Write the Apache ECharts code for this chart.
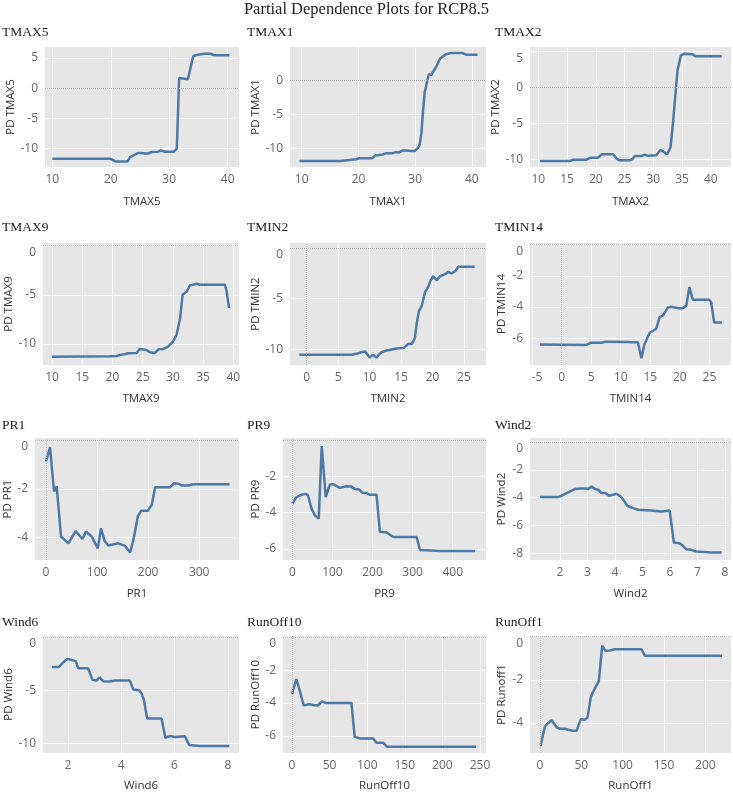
<!doctype html>
<html>
<head>
<meta charset="UTF-8">
<title>Partial Dependence Plots for RCP8.5</title>
<script src="https://cdn.jsdelivr.net/npm/echarts@6/dist/echarts.min.js"></script>
<style>
  html, body { margin: 0; padding: 0; background: #fff; }
  #main { width: 733px; height: 793px; }
</style>
</head>
<body>
<div id="main"></div>
<script>
// values, one x/y pair of arrays per panel
var tmax5X = [10, 19.9, 20.8, 22.9, 23.3, 24.1, 24.7, 25.2, 25.9, 26.4, 27.0, 28.1, 28.6, 28.9, 29.3, 30.8, 31.3, 31.7, 33.2, 33.5, 34.1, 34.9, 36.0, 37.1, 37.7, 40.3];
var tmax5Y = [-11.65, -11.65, -12.1, -12.1, -11.4, -11.0, -10.7, -10.7, -10.8, -10.8, -10.55, -10.5, -10.3, -10.2, -10.5, -10.5, -10.0, 1.7, 1.5, 1.7, 5.3, 5.55, 5.7, 5.7, 5.45, 5.45];

var tmax1X = [9.6, 16.8, 17.1, 19.6, 20.2, 22.4, 23.0, 23.3, 24.3, 24.9, 26.0, 26.6, 27.2, 27.8, 28.4, 29.3, 29.9, 30.5, 30.8, 31.1, 31.4, 31.7, 32.1, 32.4, 32.8, 33.1, 33.7, 34.4, 35.4, 36.3, 38.4, 39.0, 41.0];
var tmax1Y = [-11.8, -11.8, -11.6, -11.55, -11.4, -11.4, -11.0, -10.85, -10.85, -10.65, -10.65, -10.5, -10.55, -10.25, -10.25, -10.35, -10.35, -9.9, -9.4, -7.8, -4.4, -1.7, -0.25, 0.9, 0.75, 0.9, 1.95, 3.2, 3.8, 4.0, 4.0, 3.75, 3.75];

var tmax2X = [10.3, 15.5, 16.1, 18.4, 19.1, 20.4, 21.0, 23.0, 23.6, 24.1, 25.9, 26.4, 26.8, 27.9, 28.5, 29.0, 30.5, 31.2, 31.6, 32.4, 33.0, 33.4, 33.8, 34.2, 34.8, 35.4, 36.8, 37.4, 41.9];
var tmax2Y = [-10.19, -10.19, -10.0, -10.0, -9.72, -9.72, -9.26, -9.26, -9.86, -10.09, -10.09, -9.91, -9.49, -9.49, -9.31, -9.44, -9.4, -8.7, -8.8, -9.26, -8.24, -5.0, -1.3, 2.41, 4.49, 4.72, 4.63, 4.35, 4.35];

var tmax9X = [10, 19.6, 20.7, 21.2, 22.0, 22.6, 24.0, 24.5, 25.6, 26.2, 27.0, 27.6, 28.4, 29.2, 30.0, 30.6, 31.2, 31.6, 32.3, 32.8, 33.9, 34.5, 38.6, 38.9, 39.3];
var tmax9Y = [-11.29, -11.26, -11.22, -11.12, -11.05, -10.95, -10.92, -10.51, -10.61, -10.85, -10.92, -10.54, -10.51, -10.27, -9.76, -9.08, -7.38, -5.0, -4.66, -4.05, -3.88, -3.98, -3.98, -4.66, -6.36];

var tmin2X = [-1.17, 7.15, 7.9, 8.7, 9.3, 9.5, 10.0, 10.5, 10.75, 11.1, 11.55, 11.9, 12.7, 13.0, 14.3, 15.4, 15.7, 16.2, 16.7, 16.95, 17.2, 17.5, 17.85, 18.3, 18.8, 19.3, 19.7, 20.1, 20.7, 21.2, 22.0, 22.5, 23.0, 23.6, 24.1, 26.7];
var tmin2Y = [-10.53, -10.53, -10.43, -10.27, -10.2, -10.27, -10.8, -10.53, -10.47, -10.8, -10.47, -10.27, -10.1, -9.97, -9.9, -9.87, -9.77, -9.43, -9.47, -9.37, -8.87, -7.37, -6.2, -5.7, -4.37, -3.87, -3.2, -2.8, -3.2, -2.8, -2.6, -2.37, -2.53, -2.3, -1.87, -1.87];

var tmin14X = [-3.65, 4.2, 4.9, 6.7, 7.4, 11.2, 11.8, 12.9, 13.5, 14.0, 14.9, 15.4, 16.0, 16.6, 17.1, 18.0, 18.5, 19.7, 20.5, 21.1, 21.6, 22.2, 25.0, 25.3, 25.8, 27.1];
var tmin14Y = [-6.41, -6.43, -6.3, -6.3, -6.22, -6.24, -6.26, -6.26, -7.28, -6.41, -5.65, -5.54, -5.39, -4.63, -4.57, -4.02, -3.98, -4.07, -4.07, -3.91, -2.72, -3.54, -3.54, -3.7, -5.0, -5.0];

var pr1X = [0, 7.8, 15.7, 20.9, 24.2, 29.4, 43.8, 58.2, 71.2, 78.4, 89.5, 101.3, 107.8, 114.4, 122.2, 141.8, 154.9, 164.7, 171.2, 179.7, 186.3, 199.3, 207.2, 213.7, 243.1, 251, 259.5, 266, 279, 287.6, 359.5];
var pr1Y = [-0.87, -0.28, -2.11, -1.9, -1.88, -3.97, -4.25, -3.74, -4.07, -3.77, -3.97, -4.46, -3.63, -4.14, -4.34, -4.25, -4.36, -4.63, -4.11, -3.14, -2.91, -2.91, -2.66, -1.93, -1.93, -1.77, -1.79, -1.86, -1.86, -1.81, -1.81];

var pr9X = [0, 10, 22.5, 33.3, 39.2, 47.5, 55.8, 65.8, 73.3, 83.3, 93.3, 101.7, 118.3, 135, 147.5, 155.8, 166.7, 175, 185, 193.3, 210, 218.3, 235, 251.7, 310, 318.3, 335, 368.3, 455.8];
var pr9Y = [-3.51, -3.15, -3.02, -2.97, -3.06, -3.75, -4.14, -4.33, -0.34, -3.15, -2.46, -2.43, -2.64, -2.55, -2.57, -2.7, -2.73, -2.91, -2.93, -3.02, -3.02, -5.05, -5.09, -5.34, -5.34, -6.05, -6.06, -6.1, -6.1];

var wind2X = [1.28, 1.94, 2.06, 2.3, 2.54, 2.79, 2.93, 3.03, 3.15, 3.27, 3.39, 3.51, 3.65, 3.78, 3.93, 4.05, 4.17, 4.29, 4.45, 4.66, 4.84, 5.32, 5.68, 5.99, 6.14, 6.35, 6.47, 6.59, 6.77, 6.95, 7.25, 7.5, 7.88];
var wind2Y = [-3.96, -3.96, -3.86, -3.62, -3.38, -3.34, -3.34, -3.38, -3.19, -3.38, -3.43, -3.67, -3.67, -3.86, -3.79, -3.72, -3.86, -4.1, -4.58, -4.75, -4.87, -4.92, -4.99, -4.92, -7.22, -7.27, -7.46, -7.7, -7.75, -7.87, -7.9, -7.94, -7.94];

var wind6X = [1.4, 1.66, 1.81, 1.97, 2.16, 2.29, 2.38, 2.75, 2.92, 3.07, 3.19, 3.32, 3.57, 3.76, 4.32, 4.45, 4.67, 4.76, 4.85, 4.97, 5.51, 5.66, 5.83, 6.01, 6.39, 6.55, 6.96, 8.06];
var wind6Y = [-2.82, -2.82, -2.42, -2.06, -2.18, -2.27, -2.94, -2.94, -4.03, -4.09, -3.79, -4.15, -4.18, -4.09, -4.09, -4.94, -5.0, -5.3, -5.91, -7.67, -7.67, -9.48, -9.3, -9.39, -9.33, -10.15, -10.24, -10.24];

var runoff10X = [0, 5.8, 10.2, 15.5, 23.5, 30.2, 34.6, 39.9, 44.8, 79, 83.4, 90.1, 107.9, 112.3, 121.2, 126.5, 244.6];
var runoff10Y = [-3.45, -2.55, -3.25, -4.14, -4.08, -4.14, -4.14, -3.9, -4.0, -4.0, -6.06, -6.16, -6.16, -6.42, -6.42, -6.67, -6.67];

var runoff1X = [0.8, 6, 10.1, 14.1, 16.1, 20.1, 24.1, 30.2, 34.2, 40.2, 44.3, 49.5, 54.3, 57.5, 61.6, 66.4, 71.2, 75.3, 79.3, 84.5, 90.5, 122.7, 126.8, 220.1];
var runoff1Y = [-5.06, -4.16, -4.0, -3.87, -3.94, -4.19, -4.27, -4.27, -4.31, -4.36, -4.36, -3.82, -3.85, -3.75, -2.78, -2.4, -2.06, -0.42, -0.66, -0.64, -0.58, -0.58, -0.88, -0.88];

// panel names, tick labels and axis extents
var names = ['TMAX5', 'TMAX1', 'TMAX2', 'TMAX9', 'TMIN2', 'TMIN14', 'PR1', 'PR9', 'Wind2', 'Wind6', 'RunOff10', 'RunOff1'];
var yNames = ['PD TMAX5', 'PD TMAX1', 'PD TMAX2', 'PD TMAX9', 'PD TMIN2', 'PD TMIN14', 'PD PR1', 'PD PR9', 'PD Wind2', 'PD Wind6', 'PD RunOff10', 'PD Runoff1'];
var xTicks = [
  [10, 20, 30, 40], [10, 20, 30, 40], [10, 15, 20, 25, 30, 35, 40],
  [10, 15, 20, 25, 30, 35, 40], [0, 5, 10, 15, 20, 25], [-5, 0, 5, 10, 15, 20, 25],
  [0, 100, 200, 300], [0, 100, 200, 300, 400], [2, 3, 4, 5, 6, 7, 8],
  [2, 4, 6, 8], [0, 50, 100, 150, 200, 250], [0, 50, 100, 150, 200]
];
var yTicks = [
  [-10, -5, 0, 5], [-10, -5, 0], [-10, -5, 0, 5],
  [-10, -5, 0], [-10, -5, 0], [-6, -4, -2, 0],
  [-4, -2, 0], [-6, -4, -2], [-8, -6, -4, -2, 0],
  [-10, -5, 0], [-6, -4, -2, 0], [-4, -2, 0]
];
var xRanges = [
  [8.75, 41.94], [7.93, 42.5], [8.56, 43.5],
  [8.5, 40.94], [-2.65, 28.5], [-5.34, 28.65],
  [-21.6, 378], [-23.3, 483], [0.91, 8.22],
  [1.06, 8.42], [-12, 258], [-12, 231]
];
var yRanges = [
  [-13.03, 6.82], [-12.68, 4.88], [-11.02, 5.65],
  [-12.14, 0.27], [-11.53, 0.47], [-7.72, 0.11],
  [-4.94, 0.1], [-6.6, 0.1], [-8.48, 0.29],
  [-10.9, 0.09], [-7.05, 0.08], [-5.39, 0.03]
];
var xData = [tmax5X, tmax1X, tmax2X, tmax9X, tmin2X, tmin14X, pr1X, pr9X, wind2X, wind6X, runoff10X, runoff1X];
var yData = [tmax5Y, tmax1Y, tmax2Y, tmax9Y, tmin2Y, tmin14Y, pr1Y, pr9Y, wind2Y, wind6Y, runoff10Y, runoff1Y];

// layout (pixels)
var plotLeft = [[45, 290, 530], [43, 290, 530], [35, 283, 530], [43, 283, 530]];
var plotRight = [239, 486, 731];
var yNameX = [10, 257, 501];
var titleX = [2, 247, 495];
var rowTop = [47, 243, 438, 636];
var rowBottom = [167, 365, 560, 757];
var titleY = [33, 228, 426, 623];
var xNameGap = [29, 28, 28, 27];

var lineColor = '#4e79a7';
var sans = 'Open Sans';
var serif = 'Liberation Serif';
var tickSize = 12;

function buildOption(shiftEdgeLabels) {
  var option = {
    backgroundColor: '#ffffff',
    animation: false,
    title: [{
      text: 'Partial Dependence Plots for RCP8.5',
      left: 'center',
      top: 1,
      padding: 0,
      textStyle: { fontFamily: serif, fontSize: 16.5, fontWeight: 'normal', color: '#222' }
    }],
    grid: [],
    xAxis: [],
    yAxis: [],
    series: []
  };

  for (var i = 0; i < names.length; i++) {
    var r = Math.floor(i / 3), c = i % 3;
    var left = plotLeft[r][c];
    var top = rowTop[r];
    var h = rowBottom[r] - top;
    var w = plotRight[c] - left;
    var xr = xRanges[i], yr = yRanges[i];
    var xt = xTicks[i], yt = yTicks[i];
    var pxY = h / (yr[1] - yr[0]);
    var pxX = w / (xr[1] - xr[0]);

    option.title.push({
      text: names[i],
      left: titleX[c],
      top: titleY[r] - 8,
      padding: 0,
      textStyle: { fontFamily: serif, fontSize: 13.5, fontWeight: 'normal', color: '#222' }
    });

    option.grid.push({
      left: left, top: top, width: w, height: h,
      show: true, backgroundColor: '#e6e6e6', borderWidth: 0
    });

    // edge labels that would hang over the plot are pushed inwards
    var firstX = xt[0];
    var shiftX = shiftEdgeLabels && (firstX - xr[0]) * pxX < 7;
    var topY = yt[yt.length - 1];
    var shiftY = shiftEdgeLabels && (yr[1] - topY) * pxY < 7;

    option.xAxis.push({
      gridIndex: i, type: 'value', min: xr[0], max: xr[1],
      name: names[i], nameLocation: 'middle', nameGap: xNameGap[r],
      nameTextStyle: { fontFamily: sans, fontSize: 11.5, color: '#333' },
      axisLine: { show: false, onZero: false },
      axisTick: { show: false, customValues: xt },
      axisLabel: {
        customValues: xt, color: '#666', fontFamily: sans, fontSize: tickSize, margin: 7,
        formatter: (function (edge, on) {
          return function (v) { return on && v === edge ? '{e|' + v + '}' : String(v); };
        })(firstX, shiftX),
        rich: { e: { color: '#666', fontFamily: sans, fontSize: tickSize, padding: [0, 0, 0, 10] } }
      },
      splitLine: { show: true, lineStyle: { color: '#f7f7f7', width: 1 } }
    });

    option.yAxis.push({
      gridIndex: i, type: 'value', min: yr[0], max: yr[1],
      name: yNames[i], nameLocation: 'middle', nameGap: left - yNameX[c] - 7,
      nameTextStyle: { fontFamily: sans, fontSize: 11.5, color: '#333' },
      axisLine: { show: false, onZero: false },
      axisTick: { show: false, customValues: yt },
      axisLabel: {
        customValues: yt, color: '#666', fontFamily: sans, fontSize: tickSize, margin: 7,
        formatter: (function (edge, on) {
          return function (v) { return on && v === edge ? '{e|' + v + '}' : String(v); };
        })(topY, shiftY),
        rich: { e: { color: '#666', fontFamily: sans, fontSize: tickSize, padding: [13, 0, 0, 0] } }
      },
      splitLine: { show: true, lineStyle: { color: '#f7f7f7', width: 1 } }
    });

    var zero = [];
    if (yr[0] < 0 && yr[1] > 0) zero.push({ yAxis: 0 });
    if (xr[0] < 0 && xr[1] > 0) zero.push({ xAxis: 0 });

    var pts = [];
    for (var k = 0; k < xData[i].length; k++) pts.push([xData[i][k], yData[i][k]]);

    option.series.push({
      type: 'line',
      xAxisIndex: i, yAxisIndex: i,
      data: pts,
      showSymbol: false,
      lineStyle: { color: lineColor, width: 2.5 },
      markLine: {
        silent: true,
        symbol: ['none', 'none'],
        label: { show: false },
        lineStyle: { color: '#b4b4b4', type: 'dotted', width: 1 },
        data: zero
      }
    });
  }
  return option;
}

var dom = document.getElementById('main');
var chart = echarts.init(dom);
try {
  chart.setOption(buildOption(true));
} catch (e) {
  chart.dispose();
  chart = echarts.init(dom);
  chart.setOption(buildOption(false));
}
</script>
</body>
</html>
